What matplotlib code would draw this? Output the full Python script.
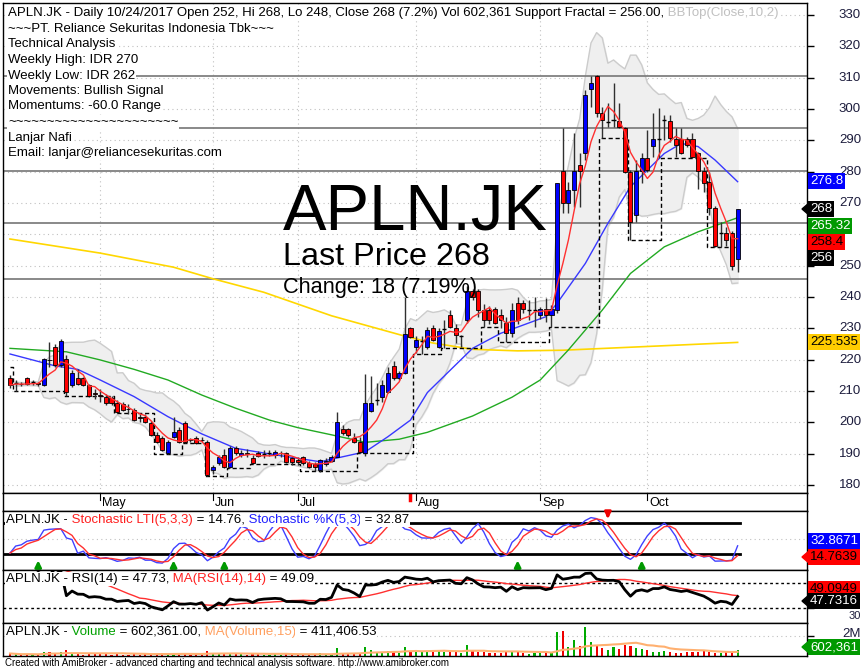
import numpy as np
import pandas as pd
import matplotlib
matplotlib.use("Agg")
import matplotlib.pyplot as plt
from matplotlib.transforms import blended_transform_factory
from matplotlib.patches import Polygon

plt.rcParams['font.family'] = ['Liberation Sans', 'DejaVu Sans']

W, H = 862, 670

# ---------------- data ----------------
opens = [214.0, 212.5, 212.3, 214.0, 212.8, 212.4, 211.9, 220.0, 223.9, 218.3,
         220.1, 211.9, 214.0, 214.0, 211.9, 209.2, 208.6, 208.2, 207.7, 206.1,
         205.8, 204.3, 203.9, 201.6, 201.8, 199.7, 196.0, 194.9, 190.3, 195.4,
         197.5, 199.9, 194.3, 194.9, 194.5, 193.8, 184.8, 186.9, 189.6, 185.8,
         191.7, 189.6, 190.1, 188.5, 190.1, 190.0, 190.3, 189.6, 190.1, 190.1,
         188.5, 188.0, 188.8, 187.1, 186.8, 184.8, 186.7, 187.8, 189.0, 197.8,
         197.8, 195.1, 193.8, 190.3, 203.7, 207.0, 208.2, 209.8, 218.0, 214.0,
         215.8, 230.0, 224.0, 226.0, 224.0, 230.0, 224.0, 229.8, 234.3, 230.0,
         227.5, 232.5, 241.9, 241.9, 235.9, 236.0, 236.1, 234.2, 231.6, 228.4,
         238.0, 238.0, 235.8, 236.0, 234.3, 236.1, 234.3, 235.9, 280.3, 270.1,
         274.1, 282.1, 286.1, 306.3, 310.5, 298.6, 296.0, 296.5, 296.3, 293.8,
         280.0, 266.2, 280.3, 284.3, 288.2, 290.3, 296.5, 296.3, 290.3, 290.3,
         290.3, 290.3, 286.0, 280.3, 276.8, 268.3, 260.3, 260.3, 260.3, 252.0]
highs = [215.0, 213.5, 213.0, 214.6, 213.4, 213.0, 220.5, 225.5, 225.0, 226.5,
         221.5, 216.7, 217.0, 214.5, 212.3, 210.5, 210.5, 209.0, 208.5, 207.0,
         206.5, 205.8, 204.5, 202.5, 202.6, 200.4, 196.8, 195.5, 194.2, 201.8,
         198.4, 200.5, 195.0, 195.5, 195.2, 194.4, 186.5, 189.6, 191.5, 192.5,
         192.4, 191.0, 191.5, 189.4, 190.9, 191.0, 191.2, 191.0, 190.8, 190.6,
         189.0, 188.8, 189.2, 187.6, 187.3, 188.4, 188.5, 189.5, 203.4, 199.1,
         198.2, 196.5, 195.4, 215.5, 214.9, 212.4, 213.5, 217.5, 219.5, 216.5,
         240.1, 230.5, 227.5, 227.6, 230.5, 231.0, 230.0, 232.6, 236.0, 231.5,
         227.8, 243.5, 242.5, 242.5, 237.9, 237.0, 236.8, 236.3, 233.7, 238.0,
         240.1, 239.0, 239.0, 240.1, 236.8, 239.6, 237.5, 276.5, 293.8, 276.8,
         292.2, 285.8, 306.0, 310.5, 310.8, 300.7, 301.8, 308.2, 302.0, 294.4,
         280.5, 283.7, 285.8, 293.3, 298.6, 300.2, 298.1, 298.1, 293.8, 293.8,
         291.2, 292.2, 286.4, 281.6, 279.9, 269.0, 264.0, 262.4, 261.0, 268.0]
lows = [211.0, 210.1, 211.5, 211.8, 211.8, 211.5, 211.5, 217.5, 217.8, 217.8,
        208.5, 211.3, 211.8, 211.5, 208.2, 207.3, 206.6, 205.5, 205.6, 203.0,
        203.5, 202.8, 200.4, 200.2, 199.8, 195.6, 193.4, 190.8, 190.0, 195.0,
        193.4, 193.5, 193.8, 193.0, 193.6, 182.8, 183.5, 186.3, 185.3, 185.5,
        189.5, 188.8, 189.0, 186.6, 188.8, 188.5, 189.3, 188.6, 189.0, 187.0,
        186.5, 186.5, 186.5, 185.5, 184.3, 184.2, 186.2, 187.3, 188.8, 196.0,
        195.3, 193.4, 190.2, 189.3, 203.3, 205.5, 206.6, 209.5, 213.5, 213.5,
        215.3, 226.8, 222.0, 221.7, 223.5, 226.0, 223.6, 223.6, 230.0, 225.2,
        224.1, 231.8, 239.0, 233.7, 230.5, 231.5, 231.3, 230.0, 225.5, 227.3,
        231.5, 235.0, 232.5, 230.5, 233.0, 232.0, 230.4, 235.0, 266.7, 266.7,
        268.8, 268.8, 283.7, 300.7, 297.6, 290.6, 294.4, 294.4, 293.8, 279.5,
        258.2, 264.0, 276.3, 280.0, 284.8, 284.2, 290.1, 289.6, 284.8, 285.5,
        288.0, 284.3, 274.6, 273.6, 266.3, 256.1, 256.0, 256.4, 248.5, 248.0]
closes = [211.9, 212.5, 212.2, 212.2, 212.8, 212.2, 220.1, 219.9, 218.3, 226.1,
          209.8, 215.6, 212.1, 211.9, 208.4, 209.0, 208.4, 206.1, 206.1, 203.4,
          203.9, 204.2, 200.7, 201.4, 200.2, 196.0, 193.8, 191.2, 193.8, 197.0,
          193.8, 193.8, 194.2, 193.3, 194.4, 183.2, 185.8, 189.0, 185.8, 191.7,
          190.1, 190.3, 190.0, 186.9, 189.3, 190.0, 190.3, 190.6, 190.2, 187.4,
          187.4, 187.2, 187.1, 185.8, 185.8, 188.0, 187.8, 189.0, 200.0, 196.7,
          196.0, 193.8, 190.6, 206.0, 206.0, 207.0, 211.9, 215.8, 214.0, 215.8,
          228.2, 227.3, 226.3, 226.0, 229.5, 226.3, 229.0, 229.8, 230.5, 227.9,
          227.5, 242.0, 239.9, 235.9, 232.7, 232.5, 231.8, 232.7, 228.4, 235.9,
          232.7, 236.1, 235.8, 236.0, 236.1, 234.3, 236.1, 276.3, 270.1, 274.1,
          280.3, 280.3, 304.5, 308.4, 298.6, 296.5, 296.0, 296.5, 294.4, 280.0,
          264.0, 280.3, 284.3, 280.5, 290.3, 290.3, 296.5, 290.6, 288.5, 286.0,
          288.5, 284.6, 280.3, 276.3, 268.3, 256.4, 260.3, 258.2, 250.0, 268.0]
volume_k = [250, 180, 120, 200, 150, 130, 450, 380, 300, 420, 600, 280, 200, 150, 220, 180,
            200, 160, 150, 230, 140, 120, 260, 150, 180, 250, 230, 280, 240, 320, 220, 260,
            130, 170, 120, 520,
            300, 280, 220, 350, 180, 160, 140, 200, 170, 130, 120, 180, 110, 220, 190,
            150, 170, 200, 220, 260, 180, 210, 800, 350, 260, 280, 330, 900, 600, 380, 450,
            520, 400, 350, 950, 500,
            450, 400, 550, 380, 650, 420, 480, 360, 300, 1150, 500, 420, 380, 300, 260, 340,
            420, 520, 380, 300, 250, 280,
            260, 300, 280, 2450, 2550, 900, 1600, 1050, 2900, 1400, 1000, 800, 650, 900, 700,
            1100, 1000, 850, 750, 600,
            450, 380, 520, 400, 350, 300, 420, 380, 450, 500, 380, 320, 350, 399, 420, 602.361]

# moving averages (bar index, value)
ma20_idx = [0, 4, 8, 12, 16, 22, 28, 34, 40, 46, 51, 55, 57, 63, 67, 71, 74, 82, 87, 95,
            97, 102, 106, 110, 113, 116, 119, 122, 125, 129]
ma20_val = [221.8, 219.9, 218.0, 216.9, 213.5, 208.2, 201.8, 196.3, 191.7, 189.9, 188.5,
            187.4, 188.2, 190.6, 195.4, 200.7, 209.5, 223.6, 228.4, 233.7, 238.0, 250.7,
            263.5, 275.2, 280.5, 285.8, 289.0, 288.0, 283.7, 276.8]
ma50_idx = [0, 10, 16, 22, 28, 34, 40, 46, 51, 57, 63, 69, 74, 82, 89, 94, 99, 105, 110,
            116, 122, 129]
ma50_val = [223.6, 222.5, 219.9, 216.9, 213.5, 208.7, 204.5, 200.7, 198.3, 196.0, 193.6,
            194.6, 196.8, 202.0, 208.0, 213.5, 223.1, 235.8, 247.5, 256.0, 260.8, 265.3]
ma200_idx = [0, 16, 29, 36, 45, 57, 65, 70, 75, 82, 90, 98, 108, 118, 129]
ma200_val = [258.5, 254.0, 249.5, 245.8, 241.5, 234.0, 230.0, 227.5, 225.3, 223.3, 222.8,
             223.0, 223.8, 224.6, 225.5]

# support fractal steps (first bar of each level, level)
frac_idx = [0, 1, 10, 19, 26, 31, 35, 39, 43, 52, 62, 72, 77, 84, 87, 96, 105, 110, 116, 124]
frac_lvl = [217.8, 210.1, 208.5, 203.0, 190.0, 193.5, 182.8, 185.5, 186.6, 184.3, 190.2,
            221.7, 223.6, 230.5, 225.5, 230.4, 290.6, 258.2, 284.2, 256.0]

sr_levels = [310.5, 293.8, 280.3, 263.7, 245.8]
price_ticks = [180, 190, 200, 210, 220, 230, 240, 250, 270, 280, 290, 300, 310, 320, 330]
month_idx = [16, 36, 51, 72, 94, 113]
month_lab = ['May', 'Jun', 'Jul', 'Aug', 'Sep', 'Oct']
buy_idx = [5, 29, 38, 90, 112]
sell_idx = [106]
mark_idx = 71

header = ["~~~PT. Reliance Sekuritas Indonesia Tbk~~~", "Technical Analysis",
          "Weekly High: IDR 270", "Weekly Low: IDR 262", "Movements: Bullish Signal",
          "Momentums: -60.0 Range", "~" * 22, "Lanjar Nafi",
          "Email: lanjar@reliancesekuritas.com"]

# ---------------- derived series ----------------
N = len(closes)
x = np.arange(N)
o, h, l, c = map(np.array, (opens, highs, lows, closes))
cs = pd.Series(closes)
ma5 = cs.rolling(5, min_periods=1).mean()
bb_mid = cs.rolling(10, min_periods=2).mean()
bb_sd = cs.rolling(10, min_periods=2).std(ddof=0)
bb_top, bb_bot = bb_mid + 2 * bb_sd, bb_mid - 2 * bb_sd

hh = pd.Series(highs).rolling(5, min_periods=1).max()
ll = pd.Series(lows).rolling(5, min_periods=1).min()
raw_k = 100 * (cs - ll) / (hh - ll)
stoch_k = raw_k.rolling(3, min_periods=1).mean()
stoch_d = stoch_k.rolling(3, min_periods=1).mean()

d = cs.diff()
gain = d.clip(lower=0).ewm(alpha=1 / 14, adjust=False).mean()
loss = (-d.clip(upper=0)).ewm(alpha=1 / 14, adjust=False).mean()
rsi = 100 - 100 / (1 + gain / loss)
rsi_ma = rsi.rolling(14, min_periods=1).mean()

vol = pd.Series(volume_k) * 1000
vol_ma = vol.rolling(15, min_periods=1).mean()

support = np.full(N, np.nan)
bounds = frac_idx + [N]
for k, lv in enumerate(frac_lvl):
    support[bounds[k]:bounds[k + 1]] = lv

# ---------------- figure ----------------
fig = plt.figure(figsize=(W / 100, H / 100), dpi=100)
fig.patch.set_facecolor('white')


def rect(x0, y0, x1, y1):
    return [x0 / W, 1 - y1 / H, (x1 - x0) / W, (y1 - y0) / H]


XL = (-1.24, 141.3)
ax = fig.add_axes(rect(3, 3, 807, 493))
axd = fig.add_axes(rect(3, 493, 807, 511))
axs = fig.add_axes(rect(3, 511, 807, 570))
axr = fig.add_axes(rect(3, 570, 807, 623))
axv = fig.add_axes(rect(3, 623, 807, 656))
for a in (ax, axd, axs, axr, axv):
    a.set_xlim(*XL)
    a.set_xticks([])
    a.tick_params(axis='y', left=False, labelleft=False, right=True, labelright=False,
                  direction='out', length=5, width=1)
    for s in a.spines.values():
        s.set_color('black')
        s.set_linewidth(1)

dot = (0, (1, 3))

# main price pane
ax.set_ylim(177.43, 333.83)
ax.set_yticks(range(180, 331, 10))
for p in range(180, 331, 10):
    ax.axhline(p, color='#c0c0c0', lw=0.8, ls=dot, zorder=0)
for m in month_idx:
    ax.axvline(m, color='#c0c0c0', lw=0.8, ls=dot, zorder=0)

ax.fill_between(x, bb_bot, bb_top, color='#efefef', zorder=1)
ax.plot(x, bb_top, color='#cccccc', lw=1, zorder=1.2)
ax.plot(x, bb_bot, color='#cccccc', lw=1, zorder=1.2)
for lv in sr_levels:
    ax.axhline(lv, color='#808080', lw=1.3, zorder=2)

ax.plot(ma200_idx, ma200_val, color='#ffd700', lw=1.2, zorder=3)
ax.plot(ma50_idx, ma50_val, color='#22aa22', lw=1, zorder=3)
ax.plot(ma20_idx, ma20_val, color='#3838ff', lw=1, zorder=3)
ax.plot(x, support, color='black', lw=1, ls=(0, (3, 2)), drawstyle='steps-mid', zorder=3.5)

up = c > o
dn = c < o
flat = ~(up | dn)
ax.vlines(x, l, h, color='#303030', lw=1, zorder=4)
ax.bar(x[up], (c - o)[up], bottom=o[up], width=0.72, color='#0000ff',
       edgecolor='black', lw=0.6, zorder=5)
ax.bar(x[dn], (o - c)[dn], bottom=c[dn], width=0.72, color='#ff0000',
       edgecolor='black', lw=0.6, zorder=5)
ax.hlines(c[flat], x[flat] - 0.36, x[flat] + 0.36, color='black', lw=1, zorder=5)
ax.plot(x, ma5, color='#ff3030', lw=1, zorder=6)

ytr = blended_transform_factory(ax.transAxes, ax.transData)
xr = 1 + (861 - 807) / 804
for p in price_ticks:
    ax.text(xr, p, str(p), transform=ytr, ha='right', va='center', fontsize=9.5,
            color='#1c1c3c', clip_on=False)

# date strip
axd.set_ylim(0, 1)
axd.tick_params(axis='y', right=False)
for m, lab in zip(month_idx, month_lab):
    axd.plot([m, m], [1, 0.62], color='black', lw=0.8)
    axd.text(m + 0.4, 0.42, lab, ha='left', va='center', fontsize=9)
axd.plot([mark_idx, mark_idx], [1, 0.62], color='red', lw=2.5)

# stochastic pane
axs.set_ylim(-9.4, 101.9)
axs.set_yticks([])
axs.axhline(50, color='#c0c0c0', lw=0.8, ls=dot, zorder=0)
xend = (N - 0.5 - XL[0]) / (XL[1] - XL[0])
axs.axhline(80, color='black', lw=2, zorder=1, xmax=xend)
axs.axhline(20, color='black', lw=2, zorder=1, xmax=xend)
axs.plot(x, stoch_k, color='#4040ff', lw=1, zorder=2)
axs.plot(x, stoch_d, color='#ff3030', lw=1, zorder=2)
for b in buy_idx:
    axs.annotate('', xy=(b, 14), xytext=(b, -9.4),
                 arrowprops=dict(arrowstyle='-|>', color='#009900', lw=2, mutation_scale=9))
for b in sell_idx:
    axs.annotate('', xy=(b, 82), xytext=(b, 101.9),
                 arrowprops=dict(arrowstyle='-|>', color='#ee0000', lw=2, mutation_scale=9))

# RSI pane
axr.set_ylim(5.5, 90.3)
axr.set_yticks([30])
axr.axhline(70, color='black', lw=1, ls=(0, (2, 2)), zorder=0)
axr.axhline(30, color='black', lw=1, ls=(0, (2, 2)), zorder=0)
axr.plot(x, rsi_ma, color='#ff3030', lw=1, zorder=2)
axr.plot(x, rsi, color='black', lw=2, zorder=3)

# volume pane
axv.set_ylim(0, 3.3e6)
axv.set_yticks([2e6])
axv.axhline(2e6, color='#c0c0c0', lw=0.8, ls=dot, zorder=0)
vcol = np.where(c >= o, '#00aa00', '#ee0000')
axv.bar(x, vol, width=0.38, color=vcol, zorder=2)
axv.plot(x, vol_ma, color='#ffb070', lw=1.5, zorder=3)

# ---------------- texts ----------------
renderer = fig.canvas.get_renderer()


def runs(x0, y0, parts, size=9.5, bg=True):
    for s, col in parts:
        t = fig.text(x0 / W, 1 - y0 / H, s, color=col, fontsize=size, ha='left', va='center',
                     bbox=dict(facecolor='white', edgecolor='none', pad=0.6) if bg else None)
        x0 += t.get_window_extent(renderer).width


runs(8, 13, [("APLN.JK - Daily 10/24/2017 Open 252, Hi 268, Lo 248, Close 268 (7.2%) "
              "Vol 602,361 Support Fractal = 256.00,", 'black'),
             (" BBTop(Close,10,2)", '#c0c0c0')])
for k, s in enumerate(header):
    runs(8, 29 + 15.5 * k, [(s, 'black')])

# big price caption (pixel positions)
fig.text(283 / W, 1 - 230 / H, "APLN.JK", fontsize=47, ha='left', va='baseline')
fig.text(283 / W, 1 - 265 / H, "Last Price 268", fontsize=23.3, ha='left', va='baseline')
fig.text(283 / W, 1 - 293 / H, "Change: 18 (7.19%)", fontsize=15.7, ha='left', va='baseline')

runs(6, 520, [("APLN.JK -", 'black'), (" Stochastic LTI(5,3,3)", '#ff2020'),
              (" = 14.76,", 'black'), (" Stochastic %K(5,3)", '#2020ff'), (" = 32.87", 'black')])
runs(6, 579, [("APLN.JK - RSI(14) = 47.73,", 'black'), (" MA(RSI(14),14)", '#ff2020'),
              (" = 49.09", 'black')])
runs(6, 632, [("APLN.JK -", 'black'), (" Volume", '#00a000'), (" = 602,361.00,", 'black'),
              (" MA(Volume,15)", '#ffa060'), (" = 411,406.53", 'black')])

fig.text(5 / W, 1 - 663 / H, "Created with AmiBroker - advanced charting and technical "
         "analysis software. http://www.amibroker.com", fontsize=7, ha='left', va='center')


def tag(y0, s, bg, fg, pointer=False, x0=810):
    fig.text(x0 / W, 1 - y0 / H, s, color=fg, fontsize=9.5, ha='left', va='center',
             bbox=dict(facecolor=bg, edgecolor='none', pad=1.2))
    if pointer:
        fig.patches.append(Polygon([[(x0 - 8) / W, 1 - y0 / H], [(x0 - 1) / W, 1 - (y0 - 6) / H],
                                    [(x0 - 1) / W, 1 - (y0 + 6) / H]], closed=True,
                                   transform=fig.transFigure, color=bg))


fig.text(861 / W, 1 - 616 / H, "30", fontsize=8, ha='right', va='center', color='#1c1c3c')
fig.text(861 / W, 1 - 634 / H, "2M", fontsize=9.5, ha='right', va='center', color='#1c1c3c')
tag(181, "276.8", '#0000ff', 'white')
tag(209, "268", 'black', 'white', pointer=True)
tag(226, "265.32", '#009900', 'white')
tag(242, "258.4", '#ff0000', 'black')
tag(258, "256", 'black', 'white')
tag(342, "225.535", '#ffcc00', 'black')
tag(541, "32.8671", '#0000ff', 'white')
tag(557, "14.7639", '#ff0000', 'black', pointer=True)
tag(589, "49.0949", '#ff0000', 'black')
tag(601, "47.7316", 'black', 'white', pointer=True)
tag(647, "602,361", '#009900', 'white', pointer=True)

fig.savefig("out.png", dpi=100)
